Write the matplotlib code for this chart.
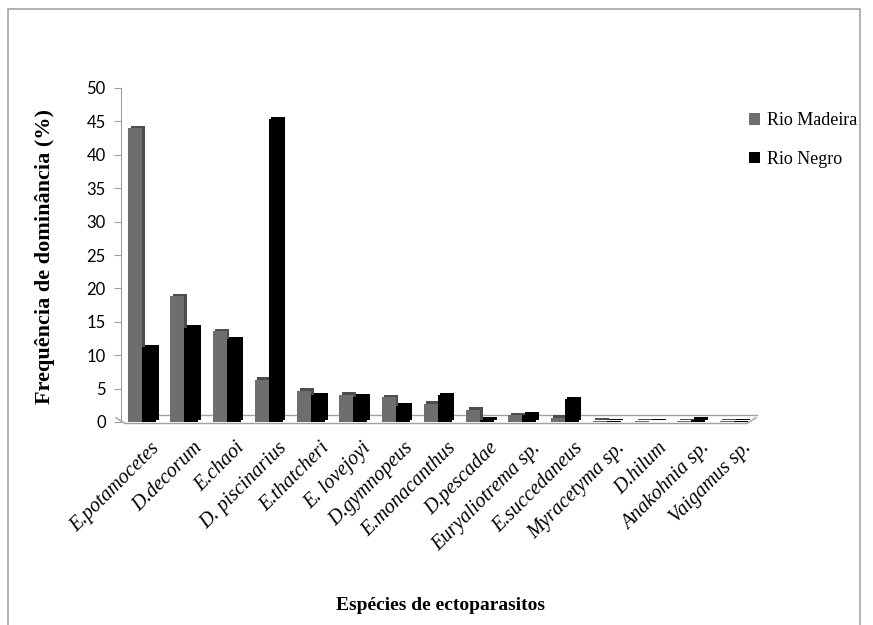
import matplotlib

matplotlib.use("Agg")
import matplotlib.pyplot as plt
import matplotlib.transforms as mtransforms
from matplotlib.patches import Rectangle
import numpy as np

species = [
    "E.potamocetes", "D.decorum", "E.chaoi", "D. piscinarius", "E.thatcheri",
    "E. lovejoyi", "D.gymnopeus", "E.monacanthus", "D.pescadae",
    "Euryaliotrema sp.", "E.succedaneus", "Myracetyma sp.", "D.hilum",
    "Anakohnia sp.", "Vaigamus sp.",
]
rio_madeira = [44.0, 18.8, 13.6, 6.3, 4.7, 4.1, 3.7, 2.7, 1.8, 1.0, 0.6, 0.15, 0.1, 0.1, 0.1]
rio_negro = [11.2, 14.1, 12.4, 45.3, 4.0, 3.8, 2.4, 4.0, 0.3, 1.1, 3.4, 0.1, 0.05, 0.3, 0.1]
yticks = list(range(0, 51, 5))

fig = plt.figure(figsize=(8.73, 6.25), dpi=100)
ax = fig.add_axes([0.1386, 0.3248, 0.726, 0.5344])

x = np.arange(len(species))
w = 0.33
depth = mtransforms.ScaledTranslation(2.5 / 100, 2.5 / 100, fig.dpi_scale_trans)

# fake 3D floor (front edge, back edge shifted up/right)
grey = "#a0a0a0"
back = ax.transAxes + mtransforms.ScaledTranslation(10 / 100, 7 / 100, fig.dpi_scale_trans)
ax.plot([0.006, 0.988], [-0.004, -0.004], color=grey, lw=1.0,
        transform=ax.transAxes, clip_on=False, zorder=1)
ax.plot([0.0, 0.988], [0.0, 0.0], color=grey, lw=1.0,
        transform=back, clip_on=False, zorder=1)
ax.plot([0.006, -0.008], [-0.004, 0.013], color=grey, lw=1.0,
        transform=ax.transAxes, clip_on=False, zorder=1)
ax.plot([0.988, 1.002], [-0.004, 0.013], color=grey, lw=1.0,
        transform=ax.transAxes, clip_on=False, zorder=1)

# bar sides (offset copies) then fronts
ax.bar(x - w / 2, rio_madeira, w, color="#4d4d4d", transform=ax.transData + depth,
       zorder=2, clip_on=False)
ax.bar(x + w / 2, rio_negro, w, color="#000000", transform=ax.transData + depth,
       zorder=3, clip_on=False)
ax.bar(x - w / 2, rio_madeira, w, color="#6e6e6e", zorder=2.5, label="Rio Madeira",
       clip_on=False)
ax.bar(x + w / 2, rio_negro, w, color="#000000", zorder=3.5, label="Rio Negro",
       clip_on=False)

ax.set_xlim(-0.5, len(species) - 0.5)
ax.set_ylim(0, 50)
ax.set_yticks(yticks)
ax.set_yticklabels([str(t) for t in yticks], fontsize=12, family="Lato")
ax.tick_params(axis="y", length=5, color=grey, pad=6)
ax.set_xticks(x + 0.2)
ax.set_xticklabels(species, rotation=45, ha="right", rotation_mode="anchor",
                   fontsize=14.5, family="Liberation Serif", style="italic")
ax.tick_params(axis="x", length=0, pad=12)
for side in ["top", "right", "bottom"]:
    ax.spines[side].set_visible(False)
ax.spines["left"].set_color(grey)

fig.text(0.052, 0.589, "Frequência de dominância (%)", rotation=90, ha="center",
         va="center", fontsize=16, fontweight="bold", family="Liberation Serif")
fig.text(0.505, 0.032, "Espécies de ectoparasitos", ha="center", va="center",
         fontsize=14, fontweight="bold", family="Liberation Serif")

fig.legend(loc="upper left", bbox_to_anchor=(733 / 873, 1 - 96 / 625), frameon=False,
           prop={"family": "Liberation Serif", "size": 13},
           handlelength=0.6, handleheight=0.6, labelspacing=1.2,
           handletextpad=0.4)

fig.add_artist(Rectangle((8 / 873, -0.05), 852 / 873, 1.05 - 9 / 625,
                         transform=fig.transFigure, fill=False,
                         ec="#a6a6a6", lw=1.2))

fig.savefig("out.png", dpi=100)
